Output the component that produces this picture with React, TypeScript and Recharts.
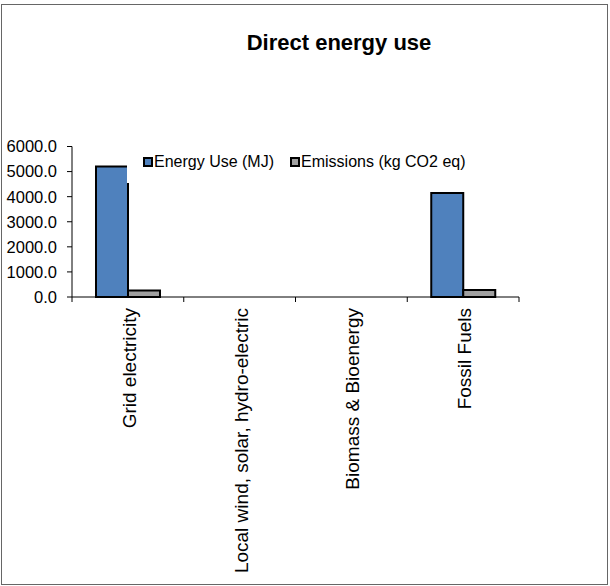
import React from "react";
import { BarChart, Bar, XAxis, YAxis } from "recharts";

const categories = [
  "Grid electricity",
  "Local wind, solar, hydro-electric",
  "Biomass & Bioenergy",
  "Fossil Fuels",
];
const energyUse = [5200, 0, 0, 4150];
const emissions = [260, 0, 0, 280];
const yTicks = [0, 1000, 2000, 3000, 4000, 5000, 6000];
const seriesNames = ["Energy Use (MJ)", "Emissions (kg CO2 eq)"];
const seriesColors = ["#4F81BD", "#A0A0A0"];

const data = categories.map((c, i) => ({
  name: c,
  energy: energyUse[i],
  emissions: emissions[i],
}));

const FONT = "'Liberation Sans', Arial, sans-serif";

const XTick = (props: any) => {
  const { x, y, payload, index, width, visibleTicksCount } = props;
  const n = visibleTicksCount || categories.length;
  const half = width / n / 2;
  const axisY = y - 11;
  return (
    <g>
      <line x1={x - half} x2={x - half} y1={axisY} y2={axisY + 5} stroke="#000" strokeWidth={1} />
      {index === n - 1 && (
        <line x1={x + half} x2={x + half} y1={axisY} y2={axisY + 5} stroke="#000" strokeWidth={1} />
      )}
      <text
        x={x}
        y={y}
        dy={8}
        transform={`rotate(-90, ${x}, ${y})`}
        textAnchor="end"
        fontSize={19}
        fontFamily={FONT}
        fill="#000"
      >
        {payload.value}
      </text>
    </g>
  );
};

export default function App() {
  return (
    <div style={{ position: "absolute", left: 0, top: 0, width: 610, height: 586, background: "#fff" }}>
      <div
        style={{
          position: "absolute",
          left: 1,
          top: 4,
          width: 605,
          height: 579,
          border: "1px solid #666",
        }}
      />
      <div
        style={{
          position: "absolute",
          left: 0,
          width: 610,
          top: 30,
          textAlign: "center",
          paddingLeft: 68,
          boxSizing: "border-box",
          fontFamily: FONT,
          fontWeight: "bold",
          fontSize: 22,
          lineHeight: "26px",
          color: "#000",
        }}
      >
        Direct energy use
      </div>
      <div style={{ position: "absolute", left: 0, top: 0 }}>
        <BarChart
          width={610}
          height={586}
          data={data}
          margin={{ top: 146.5, right: 91, bottom: 9, left: 0 }}
          barCategoryGap={24}
          barGap={0}
        >
          <XAxis
            dataKey="name"
            height={280}
            tickLine={false}
            tickSize={5}
            tickMargin={6}
            axisLine={{ stroke: "#000", strokeWidth: 1 }}
            tick={<XTick />}
            interval={0}
          />
          <YAxis
            width={72}
            domain={[0, 6000]}
            ticks={yTicks}
            interval={0}
            tickSize={5}
            tickMargin={10}
            tickFormatter={(v: number) => v.toFixed(1)}
            tick={{ fontSize: 16.5, fontFamily: FONT, fill: "#000" }}
            tickLine={{ stroke: "#000" }}
            axisLine={{ stroke: "#000", strokeWidth: 1 }}
          />
          <Bar dataKey="energy" name={seriesNames[0]} fill={seriesColors[0]} stroke="#000" strokeWidth={2} isAnimationActive={false} />
          <Bar dataKey="emissions" name={seriesNames[1]} fill={seriesColors[1]} stroke="#000" strokeWidth={2} isAnimationActive={false} />
        </BarChart>
      </div>
      <div
        style={{
          position: "absolute",
          left: 127,
          top: 143,
          height: 40,
          width: 365,
          background: "#fff",
          display: "flex",
          alignItems: "center",
          paddingLeft: 16,
          paddingBottom: 2,
          boxSizing: "border-box",
          fontFamily: FONT,
          fontSize: 16,
          color: "#000",
          whiteSpace: "nowrap",
        }}
      >
        {seriesNames.map((s, i) => (
          <span key={s} style={{ display: "inline-flex", alignItems: "center", marginRight: i === 0 ? 16 : 0 }}>
            <span
              style={{
                display: "inline-block",
                width: 6,
                height: 6,
                border: "2px solid #000",
                background: seriesColors[i],
                marginRight: 1,
              }}
            />
            {s}
          </span>
        ))}
      </div>
    </div>
  );
}
